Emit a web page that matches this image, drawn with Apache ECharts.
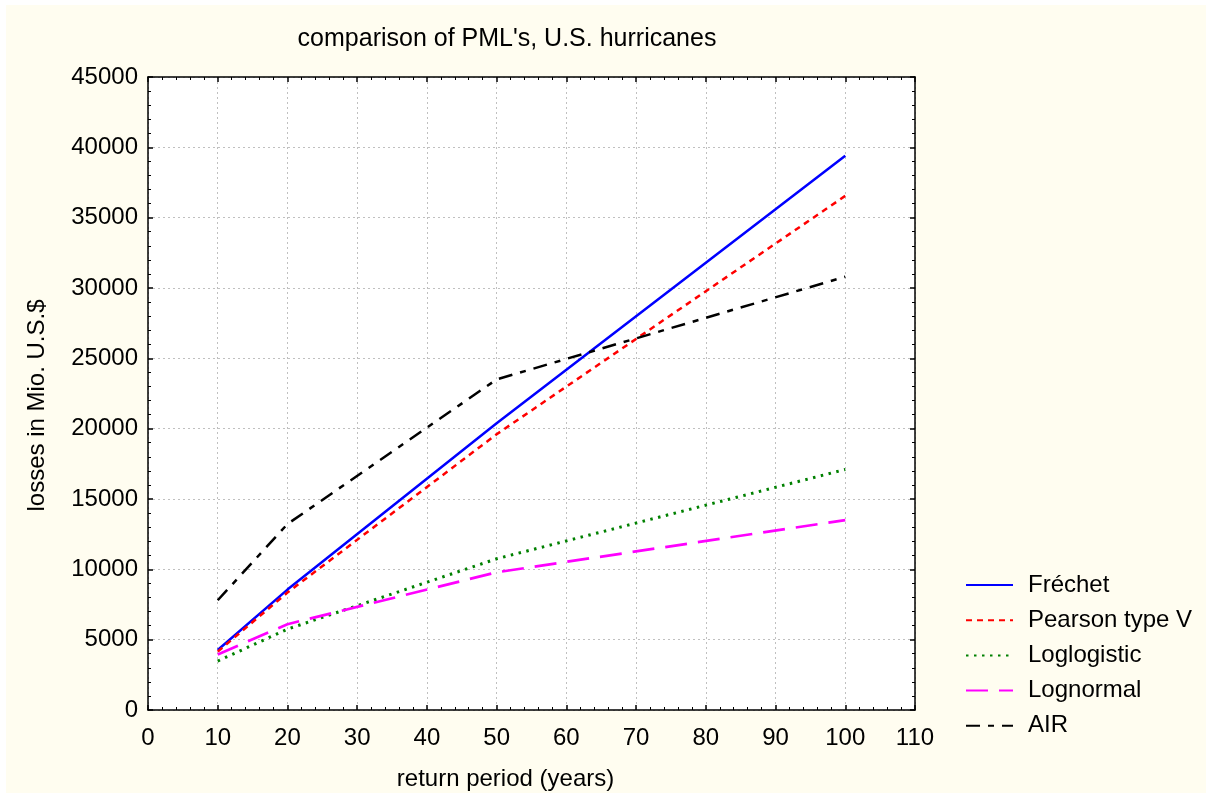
<!DOCTYPE html>
<html>
<head>
<meta charset="utf-8">
<script src="https://cdn.jsdelivr.net/npm/echarts@6/dist/echarts.min.js"></script>
<style>
html,body{margin:0;padding:0;background:#ffffff;}
#bg{position:absolute;left:6px;top:5px;width:1200px;height:788px;background:#FFFDF0;}
#main{position:absolute;left:0;top:0;width:1212px;height:798px;}
</style>
</head>
<body>
<div id="bg"></div>
<div id="main"></div>
<script>
const titleText = "comparison of PML's, U.S. hurricanes";
const xName = "return period (years)";
const yName = "losses in Mio. U.S.$";
const returnPeriods = [10, 20, 50, 100];
const frechet = [4270, 8560, 20380, 39400];
const pearsonV = [4150, 8350, 19600, 36550];
const loglogistic = [3480, 5750, 10750, 17100];
const lognormal = [3950, 6100, 9790, 13500];
const air = [7800, 13220, 23500, 30800];
const seriesNames = ["Fréchet", "Pearson type V", "Loglogistic", "Lognormal", "AIR"];

const FONT = "Liberation Sans, Arial, sans-serif";
function pairs(vals){ return returnPeriods.map((x,i)=>[x, vals[i]]); }

const chart = echarts.init(document.getElementById('main'), null, {renderer:'canvas'});

const axisCommon = {
  axisLine:{show:true, onZero:false, lineStyle:{color:'#000', width:1.5}},
  axisTick:{show:true, inside:true, length:5, lineStyle:{color:'#000', width:1.5}},
  minorTick:{show:true, splitNumber:5, length:3, lineStyle:{color:'#000', width:1}},
};

const option = {
  animation:false,
  backgroundColor:'transparent',
  title:{
    text:titleText, left:502, top:22, textAlign:'center',
    textStyle:{fontFamily:FONT, fontSize:25, fontWeight:'normal', color:'#000'}
  },
  grid:{left:148, top:77, width:767, height:633, show:true, backgroundColor:'#ffffff', borderWidth:0},
  legend:{
    orient:'vertical', left:960, top:568, itemWidth:47, itemHeight:14, itemGap:11.2,
    itemStyle:{opacity:0},
    textStyle:{fontFamily:FONT, fontSize:24, color:'#000', padding:[0,0,0,10]},
    data:seriesNames
  },
  xAxis:[
    Object.assign({
      type:'value', min:0, max:110, interval:10, position:'bottom',
      name:xName, nameLocation:'middle', nameGap:57,
      nameTextStyle:{fontFamily:FONT, fontSize:24, color:'#000', padding:[0,52,0,0]},
      axisLabel:{fontFamily:FONT, fontSize:24, color:'#000', margin:16},
      splitLine:{show:true, lineStyle:{color:'#c0c0c0', type:[2,3], width:1}}
    }, axisCommon),
    Object.assign({
      type:'value', min:0, max:110, interval:10, position:'top',
      axisLabel:{show:false}, splitLine:{show:false}
    }, axisCommon)
  ],
  yAxis:[
    Object.assign({
      type:'value', min:0, max:45000, interval:5000, position:'left',
      name:yName, nameLocation:'middle', nameGap:99, nameRotate:90,
      nameTextStyle:{fontFamily:FONT, fontSize:24, color:'#000', padding:[0,24,0,0]},
      axisLabel:{fontFamily:FONT, fontSize:24, color:'#000', margin:10, formatter:(v)=>String(v)},
      splitLine:{show:true, lineStyle:{color:'#c0c0c0', type:[2,3], width:1}}
    }, axisCommon),
    Object.assign({
      type:'value', min:0, max:45000, interval:5000, position:'right',
      axisLabel:{show:false}, splitLine:{show:false}
    }, axisCommon)
  ],
  series:[
    {name:seriesNames[0], type:'line', data:pairs(frechet), symbol:'none',
     lineStyle:{color:'#0000FF', width:2.5, type:'solid'}, itemStyle:{color:'#0000FF'}},
    {name:seriesNames[1], type:'line', data:pairs(pearsonV), symbol:'none',
     lineStyle:{color:'#FF0000', width:2.5, type:[6,5]}, itemStyle:{color:'#FF0000'}},
    {name:seriesNames[2], type:'line', data:pairs(loglogistic), symbol:'none',
     lineStyle:{color:'#008000', width:3, type:[2.5,5.5]}, itemStyle:{color:'#008000'}},
    {name:seriesNames[3], type:'line', data:pairs(lognormal), symbol:'none',
     lineStyle:{color:'#FF00FF', width:2.7, type:[22,11]}, itemStyle:{color:'#FF00FF'}},
    {name:seriesNames[4], type:'line', data:pairs(air), symbol:'none',
     lineStyle:{color:'#000000', width:2.5, type:[14,8,6,8]}, itemStyle:{color:'#000000'}}
  ]
};
chart.setOption(option);
</script>
</body>
</html>
